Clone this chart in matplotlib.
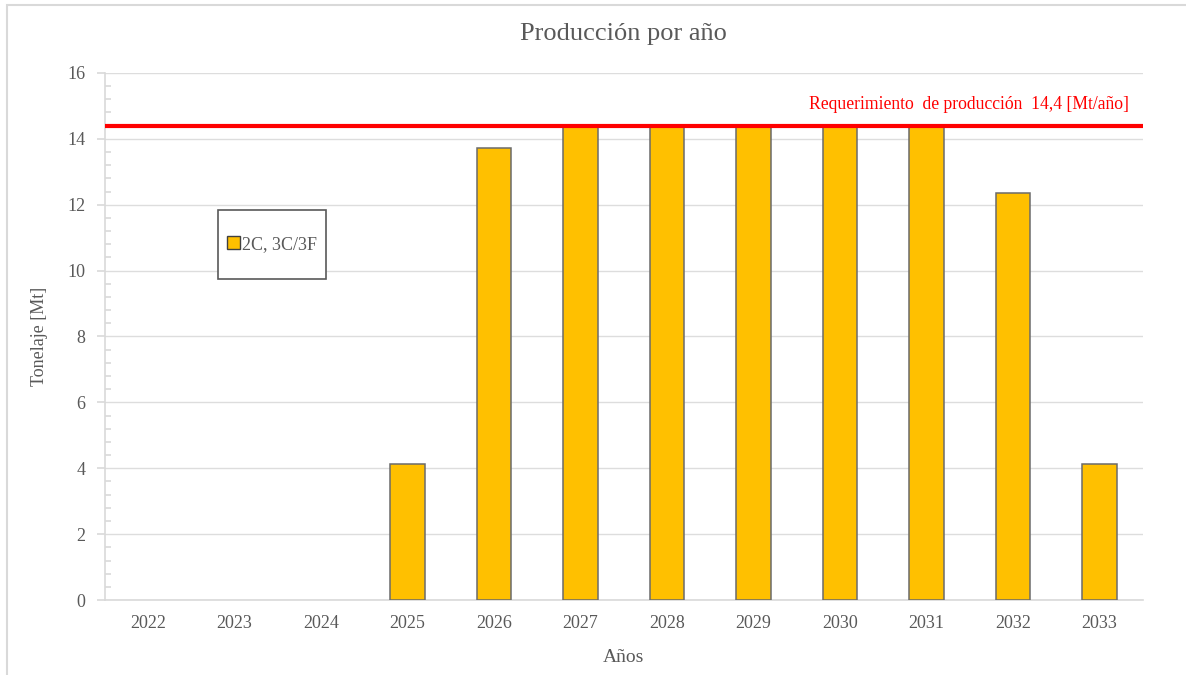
import matplotlib.pyplot as plt
import numpy as np
from matplotlib.ticker import MultipleLocator
from matplotlib.patches import Rectangle, Patch

# Production per year (Mt)
years = ['2022', '2023', '2024', '2025', '2026', '2027', '2028',
         '2029', '2030', '2031', '2032', '2033']
tonnage = [0, 0, 0, 4.13, 13.72, 14.4, 14.4, 14.4, 14.4, 14.4, 12.36, 4.13]
requirement = 14.4

plt.rcParams['font.family'] = ['Liberation Serif', 'DejaVu Serif']
grey = '#595959'
bar_color = '#FFC000'
bar_edge = '#6b6b6b'

fig = plt.figure(figsize=(11.86, 6.75), dpi=100)
ax = fig.add_axes([0.0885, 0.111, 0.875, 0.781])

# light outer border of the chart area
fig.patches.append(Rectangle((0.006, -0.01), 1.0, 1.003, transform=fig.transFigure,
                             fill=False, edgecolor='#d9d9d9', linewidth=1.5))

x = np.arange(len(years))
# no outline on empty years
edge_w = [1.1 if v > 0 else 0 for v in tonnage]
ax.bar(x, tonnage, width=0.4, color=bar_color, edgecolor=bar_edge,
       linewidth=edge_w, zorder=3)

ax.axhline(requirement, color='#ff0000', linewidth=3, zorder=4)
ax.text(len(years) - 0.66, requirement + 0.65,
        'Requerimiento  de producción  14,4 [Mt/año]',
        color='#ff0000', fontsize=12.7, ha='right', va='center')

ax.set_xlim(-0.5, len(years) - 0.5)
ax.set_ylim(0, 16)
ax.set_xticks(x)
ax.set_xticklabels(years)
ax.yaxis.set_major_locator(MultipleLocator(2))
ax.yaxis.set_minor_locator(MultipleLocator(0.4))

ax.grid(axis='y', color='#dddddd', linewidth=1, zorder=0)
for side in ['top', 'right']:
    ax.spines[side].set_visible(False)
ax.spines['left'].set_color('#d9d9d9')
ax.spines['bottom'].set_color('#d9d9d9')
ax.spines['left'].set_linewidth(1.2)
ax.spines['bottom'].set_linewidth(1.2)

ax.tick_params(axis='x', length=0, pad=11, labelsize=13, labelcolor=grey)
ax.tick_params(axis='y', which='major', length=6, direction='out',
               color='#d9d9d9', width=1.2, labelsize=13, labelcolor=grey, pad=8)
ax.tick_params(axis='y', which='minor', length=4, direction='in',
               color='#d9d9d9', width=1.2)

ax.set_title('Producción por año', fontsize=19, color=grey, pad=24)
ax.set_xlabel('Años', fontsize=14, color=grey, labelpad=12)
ax.set_ylabel('Tonelaje [Mt]', fontsize=13, color=grey, labelpad=14)

# legend box drawn separately so it can be taller than the text
ax.add_patch(Rectangle((0.109, 0.609), 0.104, 0.131, transform=ax.transAxes,
                       facecolor='white', edgecolor='#595959', linewidth=1.2,
                       zorder=5))
handle = Patch(facecolor=bar_color, edgecolor='#404040', linewidth=1.0)
ax.legend([handle], ['2C, 3C/3F'], loc='center', bbox_to_anchor=(0.161, 0.6745),
          frameon=False, fontsize=13, handlelength=0.7, handleheight=0.7,
          handletextpad=0.15, borderpad=0, labelcolor=grey).set_zorder(6)

fig.savefig('out.png', dpi=100)
